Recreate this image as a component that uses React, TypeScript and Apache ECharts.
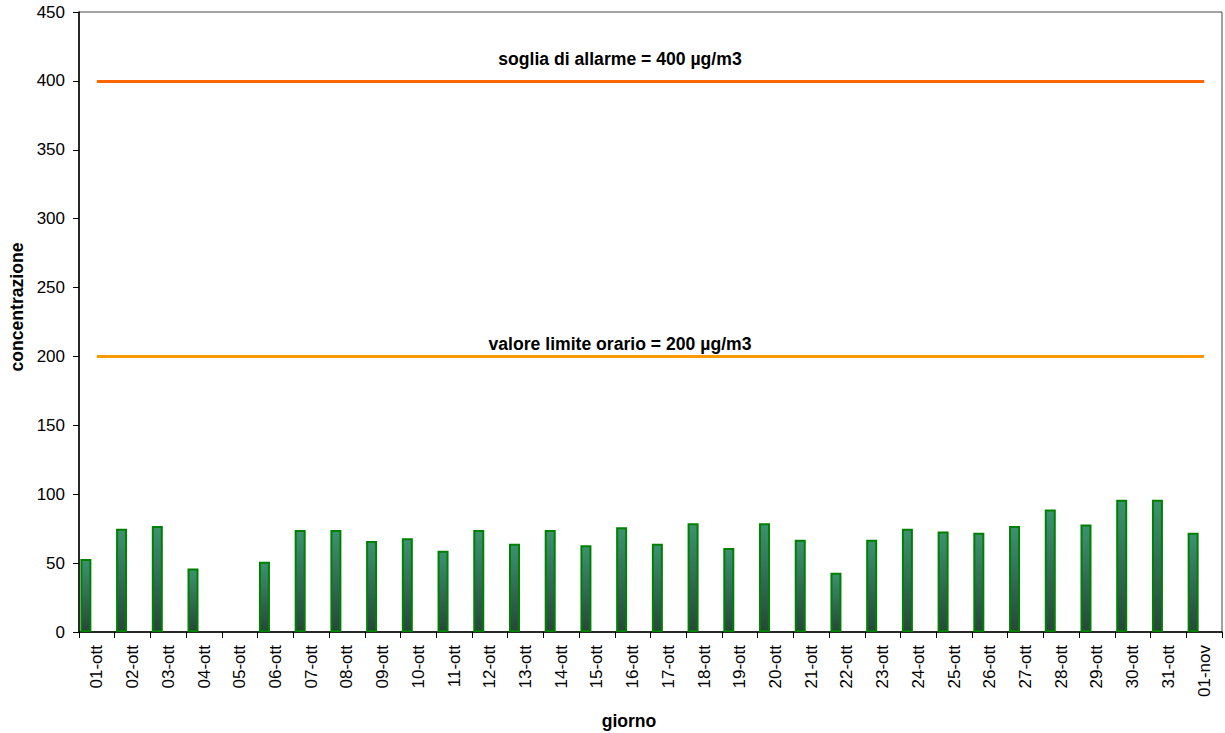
import React, { useEffect, useRef } from "react";
import * as echarts from "echarts";

const categories = [
  "01-ott", "02-ott", "03-ott", "04-ott", "05-ott", "06-ott", "07-ott", "08-ott",
  "09-ott", "10-ott", "11-ott", "12-ott", "13-ott", "14-ott", "15-ott", "16-ott",
  "17-ott", "18-ott", "19-ott", "20-ott", "21-ott", "22-ott", "23-ott", "24-ott",
  "25-ott", "26-ott", "27-ott", "28-ott", "29-ott", "30-ott", "31-ott", "01-nov",
];

const concentrazione: (number | string)[] = [
  53, 75, 77, 46, "-", 51, 74, 74, 66, 68, 59, 74, 64, 74, 63, 76,
  64, 79, 61, 79, 67, 43, 67, 75, 73, 72, 77, 89, 78, 96, 96, 72,
];

const emptySeries: string[] = categories.map(() => "-");

const sogliaAllarme = 400;
const valoreLimite = 200;

const yTicks = { min: 0, max: 450, interval: 50 };

const FONT = 'Arial, "Liberation Sans", sans-serif';

export default function App() {
  const ref = useRef<HTMLDivElement>(null);

  useEffect(() => {
    if (!ref.current) return;
    const chart = echarts.init(ref.current, null, { renderer: "svg" });
    const last = categories[categories.length - 1];
    const barStyle = {
      color: new echarts.graphic.LinearGradient(0, 0, 0, 1, [
        { offset: 0, color: "#3c9270" },
        { offset: 1, color: "#27473a" },
      ]),
      borderColor: "#008000",
      borderWidth: 2,
    };
    const titleFont = `bold 17.6px ${FONT}`;
    chart.setOption({
      animation: false,
      backgroundColor: "#ffffff",
      textStyle: { fontFamily: FONT },
      grid: {
        left: 79,
        right: 3,
        top: 12,
        bottom: 101,
        show: true,
        borderColor: "#444",
        borderWidth: 1,
        backgroundColor: "transparent",
      },
      xAxis: {
        type: "category",
        data: categories,
        boundaryGap: true,
        axisLine: { lineStyle: { color: "#000", width: 1.5 } },
        axisTick: { show: true, length: 6, lineStyle: { color: "#000" } },
        axisLabel: {
          rotate: 90,
          interval: 0,
          margin: 13,
          fontSize: 17,
          color: "#000",
          fontFamily: FONT,
        },
        splitLine: { show: false },
      },
      yAxis: {
        type: "value",
        min: yTicks.min,
        max: yTicks.max,
        interval: yTicks.interval,
        axisLine: { show: true, lineStyle: { color: "#000", width: 1.5 } },
        axisTick: { show: true, length: 6, lineStyle: { color: "#000" } },
        axisLabel: { margin: 14, fontSize: 17, color: "#000", fontFamily: FONT },
        splitLine: { show: false },
      },
      series: [
        {
          type: "bar",
          name: "concentrazione",
          data: concentrazione,
          barWidth: 11,
          barGap: "0%",
          itemStyle: barStyle,
        },
        {
          type: "bar",
          data: emptySeries,
          barWidth: 11,
          barGap: "0%",
          markLine: {
            symbol: "none",
            silent: true,
            label: { show: false },
            data: [
              [
                { xAxis: categories[0], yAxis: sogliaAllarme, lineStyle: { color: "#ff6600", width: 3, type: "solid" } },
                { xAxis: last, yAxis: sogliaAllarme },
              ],
              [
                { xAxis: categories[0], yAxis: valoreLimite, lineStyle: { color: "#ff9900", width: 3, type: "solid" } },
                { xAxis: last, yAxis: valoreLimite },
              ],
            ],
          },
        },
        { type: "bar", data: emptySeries, barWidth: 11, barGap: "0%" },
      ],
      graphic: [
        {
          type: "text",
          x: 620,
          y: 59,
          style: {
            text: "soglia di allarme = 400 µg/m3",
            font: titleFont,
            fill: "#000",
            textAlign: "center",
            textVerticalAlign: "middle",
          },
        },
        {
          type: "text",
          x: 620,
          y: 344,
          style: {
            text: "valore limite orario = 200 µg/m3",
            font: titleFont,
            fill: "#000",
            textAlign: "center",
            textVerticalAlign: "middle",
          },
        },
        {
          type: "text",
          x: 629,
          y: 721,
          style: {
            text: "giorno",
            font: titleFont,
            fill: "#000",
            textAlign: "center",
            textVerticalAlign: "middle",
          },
        },
        {
          type: "text",
          x: 17,
          y: 307,
          rotation: Math.PI / 2,
          style: {
            text: "concentrazione",
            font: titleFont,
            fill: "#000",
            textAlign: "center",
            textVerticalAlign: "middle",
          },
        },
      ],
    });
    return () => chart.dispose();
  }, []);

  return (
    <div
      ref={ref}
      style={{ position: "fixed", left: 0, top: 0, width: 1225, height: 733 }}
    />
  );
}
